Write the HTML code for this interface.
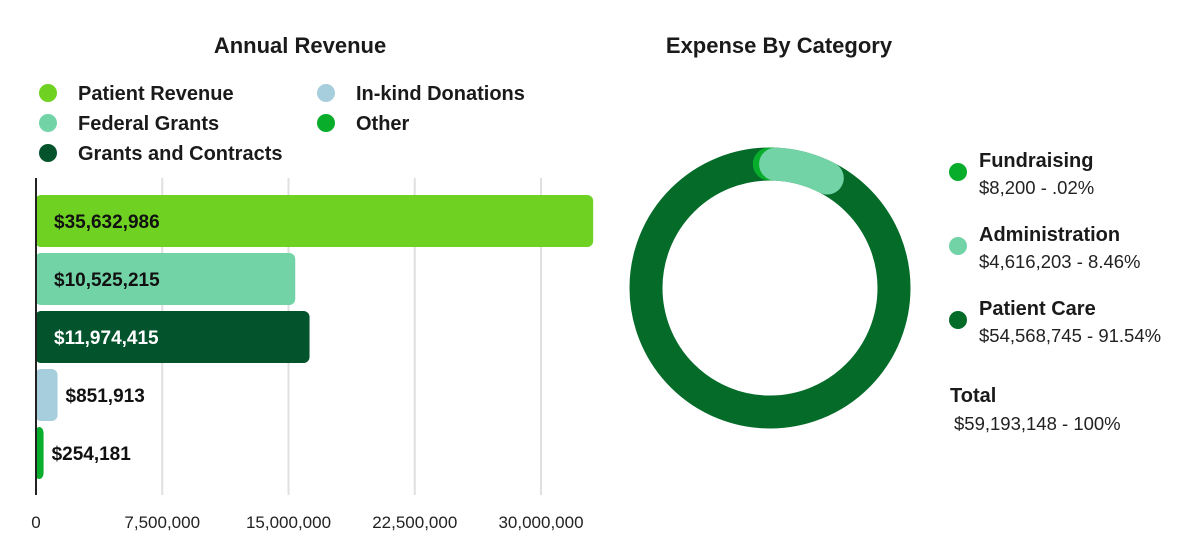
<!DOCTYPE html>
<html><head><meta charset="utf-8"><style>
body{margin:0;width:1200px;height:542px;background:#fff;overflow:hidden;font-family:"Liberation Sans",sans-serif}
svg{position:absolute;left:0;top:0}
</style></head><body>
<svg id="c" width="1200" height="542"></svg>
<script>
const categories=["Patient Revenue","Federal Grants","Grants and Contracts","In-kind Donations","Other"];
const barValues=[33100000,15400000,16250000,1280000,450000];
const barLabels=["$35,632,986","$10,525,215","$11,974,415","$851,913","$254,181"];
const barColors=["#6fd222","#72d3a7","#03532d","#a7cedd","#08ad2c"];
const ticks=[0,7500000,15000000,22500000,30000000];
const tickLabels=["0","7,500,000","15,000,000","22,500,000","30,000,000"];
const expCats=["Fundraising","Administration","Patient Care"];
const expAmounts=["$8,200 - .02%","$4,616,203 - 8.46%","$54,568,745 - 91.54%"];
const expPct=[0.02,8.46,91.54];
const expColors=["#08ad2c","#72d3a7","#046b29"];

const NS="http://www.w3.org/2000/svg";
const svg=document.getElementById('c');
function mk(t,a,txt){const e=document.createElementNS(NS,t);for(const k in a)e.setAttribute(k,a[k]);if(txt!==undefined)e.textContent=txt;svg.appendChild(e);return e;}
const x=v=>36+v*(505/30000000);
const bandY=i=>195+i*58;

let e;
e=mk('text',{x:300,y:53,'text-anchor':'middle','font-size':22,'font-weight':'bold',fill:'#1a1a1a'},'Annual Revenue');

e=mk('text',{x:779,y:53,'text-anchor':'middle','font-size':22,'font-weight':'bold',fill:'#1a1a1a'},'Expense By Category');


const legPos=[[48,93],[48,123],[48,153],[326,93],[326,123]];
categories.forEach((c,i)=>{
  const [lx,ly]=legPos[i];
  e=mk('circle',{cx:lx,cy:ly,r:9,fill:barColors[i]});
  
  e=mk('text',{x:lx+30,y:ly+7,'font-size':20,'font-weight':'bold',fill:'#1a1a1a'},c);
  
});

ticks.forEach((t,i)=>{
  if(t>0){e=mk('line',{x1:x(t),x2:x(t),y1:178,y2:495,stroke:'#e0e0e0','stroke-width':2});
  }
  e=mk('text',{x:x(t),y:528,'text-anchor':'middle','font-size':17,fill:'#222'},tickLabels[i]);
  
});

barValues.forEach((v,i)=>{
  e=mk('rect',{x:x(0)-1,y:bandY(i),width:x(v)-x(0)+1,height:52,rx:6,fill:barColors[i]});
  
  const inside=(x(v)-x(0))>150;
  e=mk('text',{x:inside?x(0)+18:(x(v)+8),y:bandY(i)+33,'font-size':19,'font-weight':'bold',fill:i==2?'#fff':'#111'},barLabels[i]);
  
});
e=mk('line',{x1:36,x2:36,y1:178,y2:495,stroke:'#222','stroke-width':2});


const cx=770,cy=288,R=124,W=33;
const total=expPct.reduce((a,b)=>a+b,0);
function pt(a){const r=(a-90)*Math.PI/180;return [cx+R*Math.cos(r),cy+R*Math.sin(r)];}
function arc(a0,a1){const [x0,y0]=pt(a0),[x1,y1]=pt(a1);const large=(a1-a0)>180?1:0;return `M${x0} ${y0} A${R} ${R} 0 ${large} 1 ${x1} ${y1}`;}
e=mk('circle',{cx,cy,r:R,fill:'none',stroke:expColors[2],'stroke-width':W});

const a1=expPct[0]/total*360, a2=a1+expPct[1]/total*360;
e=mk('path',{d:arc(-0.3,a1+0.3),fill:'none',stroke:expColors[0],'stroke-width':W,'stroke-linecap':'round'});

e=mk('path',{d:arc(a1+2.5,a2-3),fill:'none',stroke:expColors[1],'stroke-width':W,'stroke-linecap':'round'});


expCats.forEach((c,i)=>{
  const ly=172+i*74;
  e=mk('circle',{cx:958,cy:ly,r:9,fill:expColors[i]});
  
  e=mk('text',{x:979,y:ly-5,'font-size':20,'font-weight':'bold',fill:'#1a1a1a'},c);
  
  e=mk('text',{x:979,y:ly+22,'font-size':18.5,fill:'#222'},expAmounts[i]);
  
});
e=mk('text',{x:950,y:402,'font-size':20,'font-weight':'bold',fill:'#1a1a1a'},'Total');

e=mk('text',{x:954,y:430,'font-size':18.5,fill:'#222'},'$59,193,148 - 100%');

</script>
</body></html>
